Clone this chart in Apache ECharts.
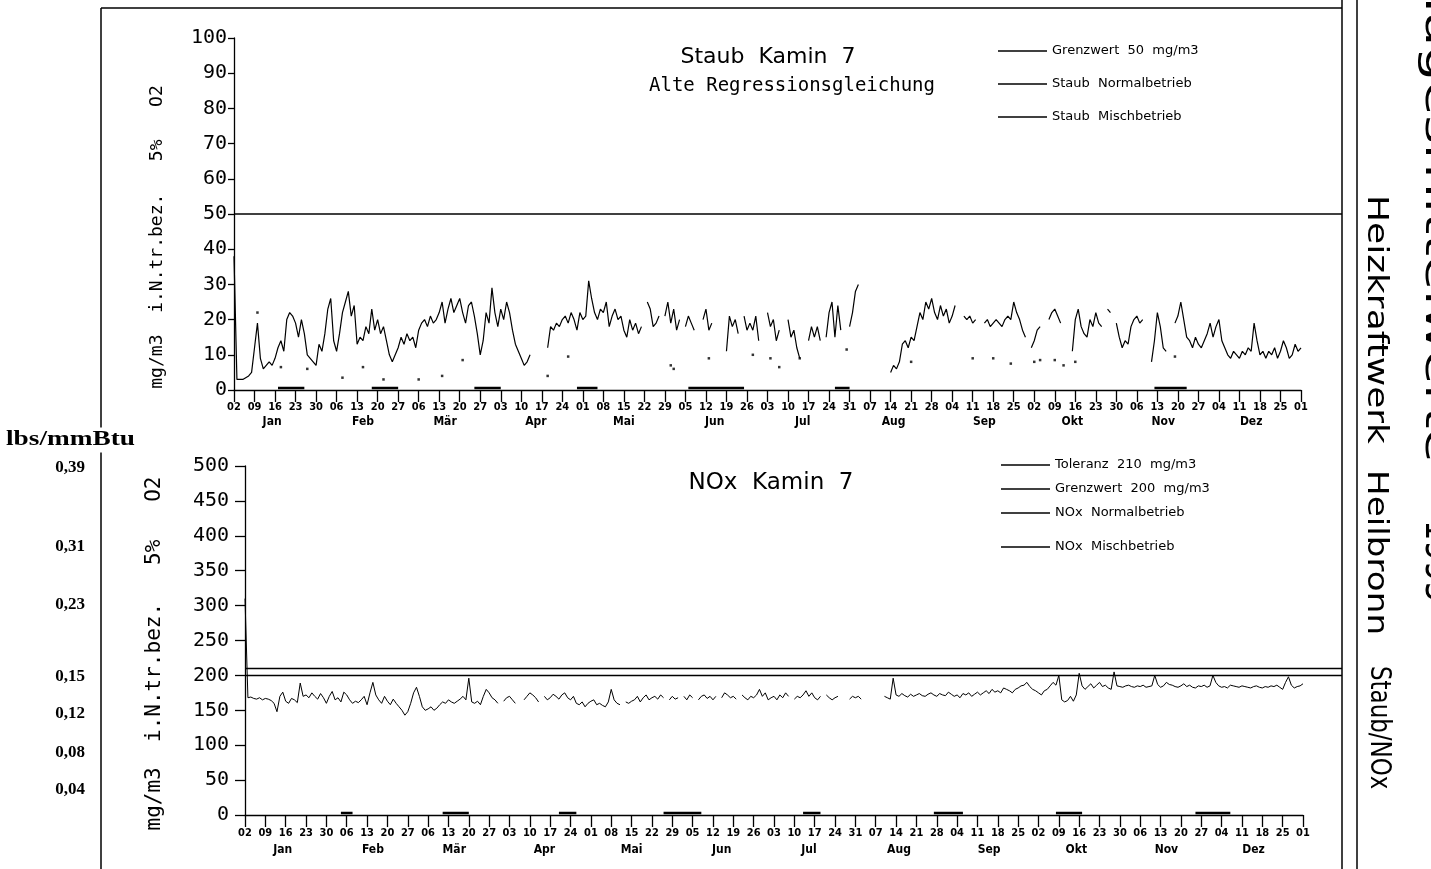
<!DOCTYPE html>
<html><head><meta charset="utf-8">
<script src="https://cdn.jsdelivr.net/npm/echarts@6/dist/echarts.min.js"></script>
<style>html,body{margin:0;padding:0;background:#fff}#c{width:1431px;height:869px}</style>
</head><body><div id="c"></div>
<script>
// ---- data (day 0 = 02 Jan 1995, day 364 = 01 Jan 1996) ----
const START_UTC = Date.UTC(1995, 0, 2);
const MONTHS = ['Jan','Feb','Mär','Apr','Mai','Jun','Jul','Aug','Sep','Okt','Nov','Dez'];
const MONTH_LABEL_DAYS = [13,44,72,103,133,164,194,225,256,286,317,347];

const STAUB_GRENZWERT = 50;
const NOX_TOLERANZ = 210;
const NOX_GRENZWERT = 200;

const STAUB_NORMAL = [
  38,3,3,3,3.5,4,5,
  12,19,9,6,7,8,7,
  9,12,14,11,20,22,21,
  19,15,20,16,10,9,8,
  7,13,11,16,23,26,14,
  11,16,22,25,28,21,24,
  13,15,14,18,16,23,17,
  20,16,18,14,10,8,10,
  12,15,13,16,14,15,12,
  17,19,20,18,21,19,20,
  22,25,19,23,26,22,24,
  26,22,19,24,25,21,16,
  10,14,22,19,29,22,18,
  23,20,25,22,17,13,11,
  9,7,8,10,null,null,null,
  null,null,12,18,17,19,18,
  20,21,19,22,20,17,22,
  20,21,31,26,22,20,23,
  22,25,18,21,23,20,21,
  17,15,20,17,19,16,18,
  null,25,23,18,19,21,null,
  21,25,19,23,17,20,null,
  18,21,19,17,null,null,20,
  23,17,19,null,null,null,null,
  11,21,18,20,16,null,21,
  17,19,17,21,14,null,null,
  22,18,20,14,17,null,null,
  20,15,17,12,9,null,null,
  14,18,15,18,14,null,15,
  22,25,15,24,17,null,null,
  18,22,28,30,null,null,null,
  null,null,null,null,null,null,null,
  5,7,6,8,13,14,12,
  15,14,18,22,20,25,23,
  26,22,20,24,21,23,19,
  21,24,null,null,21,20,21,
  19,20,null,null,19,20,18,
  19,20,19,18,20,21,20,
  25,22,20,17,15,null,12,
  14,17,18,null,null,20,22,
  23,21,19,null,null,null,11,
  20,23,18,16,15,20,18,
  22,19,18,null,23,22,null,
  19,15,12,14,13,18,20,
  21,19,20,null,null,8,14,
  22,18,12,11,null,null,19,
  21,25,20,15,14,12,15,
  13,12,14,16,19,15,18,
  20,14,12,10,9,11,10,
  9,11,10,12,11,19,14,
  10,11,9,11,10,12,9,
  11,14,12,9,10,13,11,
  12
];
const STAUB_MISCH_SEGMENTS = [[15,24,0.6],[47,56,0.6],[82,91,0.6],[117,124,0.6],[155,174,0.6],[205,210,0.6],[314,325,0.6]];
const STAUB_MISCH_DOTS = [[8,22],[16,6.5],[25,6],[37,3.5],[44,6.5],[51,3],[63,3],[71,4],[78,8.5],[107,4],[114,9.5],
  [149,7],[150,6],[162,9],[177,10],[183,9],[186,6.5],[193,9],[209,11.5],[231,8],[252,9],[259,9],[265,7.5],
  [273,8],[275,8.5],[280,8.5],[283,7],[287,8],[321,9.5]];

const NOX_NORMAL = [
  310,168,169,167,166,168,165,
  167,166,164,160,148,170,176,
  163,160,167,165,161,189,170,
  172,168,175,170,166,174,168,
  160,170,177,165,168,162,176,
  172,165,160,163,161,165,170,
  158,175,190,172,165,160,170,
  163,158,166,160,155,150,143,
  148,160,175,183,170,155,150,
  152,155,150,153,158,162,160,
  165,162,160,163,166,170,165,
  196,162,160,163,158,170,180,
  175,168,165,160,null,163,168,
  170,165,160,null,null,165,170,
  175,172,168,162,null,170,165,
  168,173,170,166,172,175,168,
  165,170,160,158,162,155,160,
  163,165,158,160,157,155,162,
  180,165,160,158,null,162,160,
  163,165,170,162,168,172,165,
  168,170,166,172,168,null,165,
  170,166,168,null,170,165,172,
  168,null,165,170,172,167,170,
  165,170,null,168,175,172,168,
  170,166,null,172,168,165,170,
  168,172,180,170,175,165,168,
  170,165,172,168,175,170,null,
  166,170,168,172,178,170,175,
  168,165,170,null,172,168,165,
  168,170,null,null,null,166,170,
  168,170,166,null,null,null,null,
  null,null,null,170,168,166,196,
  172,170,174,171,169,173,170,
  172,174,171,170,173,175,172,
  170,174,172,171,176,173,170,
  172,168,174,172,175,170,173,
  176,172,175,178,174,180,176,
  178,175,182,180,178,175,180,
  182,185,186,190,184,180,178,
  175,172,178,180,185,190,186,
  200,165,162,164,170,163,172,
  203,185,180,184,188,182,186,
  190,184,186,182,180,205,185,
  184,183,185,186,184,183,185,
  184,186,183,184,185,200,187,
  183,185,190,187,186,184,183,
  185,188,184,186,183,182,185,
  184,186,183,185,200,190,185,
  183,184,182,186,185,184,183,
  185,184,183,182,184,185,183,
  182,184,183,185,184,186,183,
  180,190,198,186,182,184,185,
  188
];
const NOX_MISCH_SEGMENTS = [[33,37,3],[68,77,3],[108,114,3],[144,157,3],[192,198,3],[237,247,3],[279,288,3],[327,339,3]];

// lbs/mmBtu scale labels, placed at their mg/m3 equivalents
const LBS_LABELS = ['0,39','0,31','0,23','0,15','0,12','0,08','0,04'];
const LBS_AT_MG = [498,384,301,198,145,90,37];

const Y_NAME = 'mg/m3  i.N.tr.bez.   5%   O2';

// ---- helpers ----
const series2pts = arr => arr.map((v, i) => [i, v == null ? '-' : v]);
const segs2pts = segs => { const out = []; segs.forEach(s => { out.push([s[0], s[2]], [s[1], s[2]], [s[1], '-']); }); return out; };
const dayLabel = v => String(new Date(START_UTC + v * 86400000).getUTCDate()).padStart(2, '0');
const DAY_CATS = Array.from({length: 365}, (_, i) => String(i));
const spaced = n => n.replace(/ /g, '  ');

const BLACK = '#000';
const MONO = 'DejaVu Sans Mono';

function dayAxis(grid, margin) {
  return { type: 'value', gridIndex: grid, min: 0, max: 364, interval: 7,
    axisLine: {lineStyle: {color: BLACK, width: 1.3}},
    axisTick: {length: 12, lineStyle: {color: BLACK, width: 1.3}},
    splitLine: {show: false},
    axisLabel: {color: BLACK, fontFamily: 'DejaVu Sans Condensed', fontWeight: 'bold', fontSize: 11, margin: margin, formatter: dayLabel} };
}
function monthAxis(grid, margin) {
  return { type: 'category', gridIndex: grid, data: DAY_CATS, boundaryGap: false, position: 'bottom',
    axisLine: {show: false}, axisTick: {show: false}, splitLine: {show: false},
    axisLabel: {color: BLACK, fontFamily: 'DejaVu Sans Condensed', fontWeight: 'bold', fontSize: 12, margin: margin,
      interval: (idx) => MONTH_LABEL_DAYS.includes(idx),
      formatter: (val, idx) => MONTHS[MONTH_LABEL_DAYS.indexOf(Number(val))] } };
}
function hiddenValue(grid, min, max) {
  return { type: 'value', gridIndex: grid, min: min, max: max, show: false, splitLine: {show: false} };
}
const legendText = {color: BLACK, fontSize: 13, fontFamily: 'DejaVu Sans', lineHeight: 14};

const chart = echarts.init(document.getElementById('c'), null, {renderer: 'canvas'});
const option = {
  animation: false,
  backgroundColor: '#fff',
  grid: [
    {left: 234, top: 38, width: 1067, height: 352},
    {left: 245, top: 466, width: 1058, height: 349},
    {left: 234, top: 38, width: 1108, height: 352},
    {left: 245, top: 466, width: 1097, height: 349}
  ],
  xAxis: [
    dayAxis(0, 12), monthAxis(0, 26),
    dayAxis(1, 13), monthAxis(1, 29),
    hiddenValue(2, 0, 1), hiddenValue(3, 0, 1)
  ],
  yAxis: [
    { type: 'value', gridIndex: 0, min: 0, max: 100, interval: 10,
      axisLine: {show: true, lineStyle: {color: BLACK, width: 1.3}},
      axisTick: {show: true, length: 6, lineStyle: {color: BLACK, width: 1.3}},
      splitLine: {show: false},
      axisLabel: {color: BLACK, fontFamily: MONO, fontSize: 20, margin: 7},
      name: Y_NAME, nameLocation: 'middle', nameGap: 68,
      nameTextStyle: {color: BLACK, fontFamily: MONO, fontSize: 18, padding: [0, 46, 0, 0]} },
    { type: 'value', gridIndex: 1, min: 0, max: 500, interval: 50,
      axisLine: {show: true, lineStyle: {color: BLACK, width: 1.3}},
      axisTick: {show: true, length: 10, lineStyle: {color: BLACK, width: 1.3}},
      splitLine: {show: false},
      axisLabel: {color: BLACK, fontFamily: MONO, fontSize: 20, margin: 16},
      name: Y_NAME, nameLocation: 'middle', nameGap: 80,
      nameTextStyle: {color: BLACK, fontFamily: MONO, fontSize: 21, padding: [0, 26, 0, 0]} },
    hiddenValue(2, 0, 100),
    hiddenValue(3, 0, 500),
    { type: 'value', gridIndex: 1, min: 0, max: 500, position: 'left', offset: 144,
      axisLine: {show: false}, axisTick: {show: false}, splitLine: {show: false},
      axisLabel: {show: true, customValues: LBS_AT_MG, color: BLACK, fontFamily: 'Liberation Serif',
        fontWeight: 'bold', fontSize: 17, margin: 16,
        formatter: (v) => { const i = LBS_AT_MG.indexOf(v); return i >= 0 ? LBS_LABELS[i] : ''; } } }
  ],
  legend: [
    { data: ['Grenzwert 50 mg/m3', 'Staub Normalbetrieb', 'Staub Mischbetrieb'].map(n => ({name: n, icon: 'rect'})),
      orient: 'vertical', left: 993, top: 39, itemWidth: 49, itemHeight: 1.5, itemGap: 19, selectedMode: false,
      formatter: spaced, textStyle: legendText },
    { data: ['Toleranz 210 mg/m3', 'Grenzwert 200 mg/m3', 'NOx Normalbetrieb'].map(n => ({name: n, icon: 'rect'})),
      orient: 'vertical', left: 996, top: 453, itemWidth: 49, itemHeight: 1.5, itemGap: 10, selectedMode: false,
      formatter: spaced, textStyle: legendText },
    { data: [{name: 'NOx Mischbetrieb', icon: 'rect'}],
      orient: 'vertical', left: 996, top: 535, itemWidth: 49, itemHeight: 1.5, selectedMode: false,
      formatter: spaced, textStyle: legendText }
  ],
  series: [
    { name: 'Grenzwert 50 mg/m3', type: 'line', xAxisIndex: 4, yAxisIndex: 2, showSymbol: false, symbol: 'none',
      data: [[0, STAUB_GRENZWERT], [1, STAUB_GRENZWERT]], lineStyle: {color: BLACK, width: 1.5}, itemStyle: {color: BLACK} },
    { name: 'Staub Normalbetrieb', type: 'line', xAxisIndex: 0, yAxisIndex: 0, showSymbol: false, symbol: 'none',
      connectNulls: false, data: series2pts(STAUB_NORMAL), lineStyle: {color: BLACK, width: 1.2}, itemStyle: {color: BLACK} },
    { name: 'Staub Mischbetrieb', type: 'line', xAxisIndex: 0, yAxisIndex: 0, showSymbol: false, symbol: 'none',
      data: segs2pts(STAUB_MISCH_SEGMENTS), lineStyle: {color: BLACK, width: 2.5}, itemStyle: {color: BLACK} },
    { name: 'Staub Mischbetrieb', type: 'scatter', xAxisIndex: 0, yAxisIndex: 0, symbol: 'rect', symbolSize: 2.5,
      data: STAUB_MISCH_DOTS, itemStyle: {color: BLACK} },
    { name: 'Toleranz 210 mg/m3', type: 'line', xAxisIndex: 5, yAxisIndex: 3, showSymbol: false, symbol: 'none',
      data: [[0, NOX_TOLERANZ], [1, NOX_TOLERANZ]], lineStyle: {color: BLACK, width: 1.5}, itemStyle: {color: BLACK} },
    { name: 'Grenzwert 200 mg/m3', type: 'line', xAxisIndex: 5, yAxisIndex: 3, showSymbol: false, symbol: 'none',
      data: [[0, NOX_GRENZWERT], [1, NOX_GRENZWERT]], lineStyle: {color: BLACK, width: 1.5}, itemStyle: {color: BLACK} },
    { name: 'NOx Normalbetrieb', type: 'line', xAxisIndex: 2, yAxisIndex: 1, showSymbol: false, symbol: 'none',
      connectNulls: false, data: series2pts(NOX_NORMAL), lineStyle: {color: BLACK, width: 1}, itemStyle: {color: BLACK} },
    { name: 'NOx Mischbetrieb', type: 'line', xAxisIndex: 2, yAxisIndex: 1, showSymbol: false, symbol: 'none',
      data: segs2pts(NOX_MISCH_SEGMENTS), lineStyle: {color: BLACK, width: 2.5}, itemStyle: {color: BLACK} }
  ],
  graphic: [
    // frame
    {type: 'line', shape: {x1: 101, y1: 8, x2: 101, y2: 869}, style: {stroke: BLACK, lineWidth: 1.5}},
    {type: 'line', shape: {x1: 101, y1: 8, x2: 1342, y2: 8}, style: {stroke: BLACK, lineWidth: 1.5}},
    {type: 'line', shape: {x1: 1342, y1: 0, x2: 1342, y2: 869}, style: {stroke: BLACK, lineWidth: 1.5}},
    {type: 'line', shape: {x1: 1357, y1: 0, x2: 1357, y2: 869}, style: {stroke: BLACK, lineWidth: 1.5}},
    // left unit header
    {type: 'text', x: 6, y: 440, z: 10, scaleX: 1.3, style: {text: 'lbs/mmBtu', fill: BLACK, font: 'bold 21px "Liberation Serif"',
      textAlign: 'left', textVerticalAlign: 'middle', backgroundColor: '#fff', padding: [2, 0]}},
    // titles
    {type: 'text', x: 768, y: 57, style: {text: 'Staub  Kamin  7', fill: BLACK, font: '22px "DejaVu Sans"', textAlign: 'center', textVerticalAlign: 'middle'}},
    {type: 'text', x: 792, y: 86, style: {text: 'Alte Regressionsgleichung', fill: BLACK, font: '19px "DejaVu Sans Mono"', textAlign: 'center', textVerticalAlign: 'middle'}},
    {type: 'text', x: 771, y: 483, style: {text: 'NOx  Kamin  7', fill: BLACK, font: '23px "DejaVu Sans"', textAlign: 'center', textVerticalAlign: 'middle'}},
    // right side vertical titles
    {type: 'text', x: 1376, y: 195, rotation: -Math.PI / 2, scaleX: 1.24, style: {text: 'Heizkraftwerk', fill: BLACK,
      font: '29px "DejaVu Sans"', textAlign: 'left', textVerticalAlign: 'middle'}},
    {type: 'text', x: 1376, y: 470, rotation: -Math.PI / 2, scaleX: 1.18, style: {text: 'Heilbronn', fill: BLACK,
      font: '29px "DejaVu Sans"', textAlign: 'left', textVerticalAlign: 'middle'}},
    {type: 'text', x: 1378, y: 666, rotation: -Math.PI / 2, scaleX: 0.82, style: {text: 'Staub/NOx', fill: BLACK,
      font: '28px "DejaVu Sans"', textAlign: 'left', textVerticalAlign: 'middle'}},
    {type: 'text', x: 1436, y: -12, rotation: -Math.PI / 2, scaleX: 1.45, style: {text: 'Tagesmittelwerte', fill: BLACK,
      font: '38px "DejaVu Sans"', textAlign: 'left', textVerticalAlign: 'middle'}},
    {type: 'text', x: 1436, y: 520, rotation: -Math.PI / 2, scaleX: 0.85, style: {text: '1995', fill: BLACK,
      font: '38px "DejaVu Sans"', textAlign: 'left', textVerticalAlign: 'middle'}}
  ]
};
chart.setOption(option);
</script>
</body></html>
